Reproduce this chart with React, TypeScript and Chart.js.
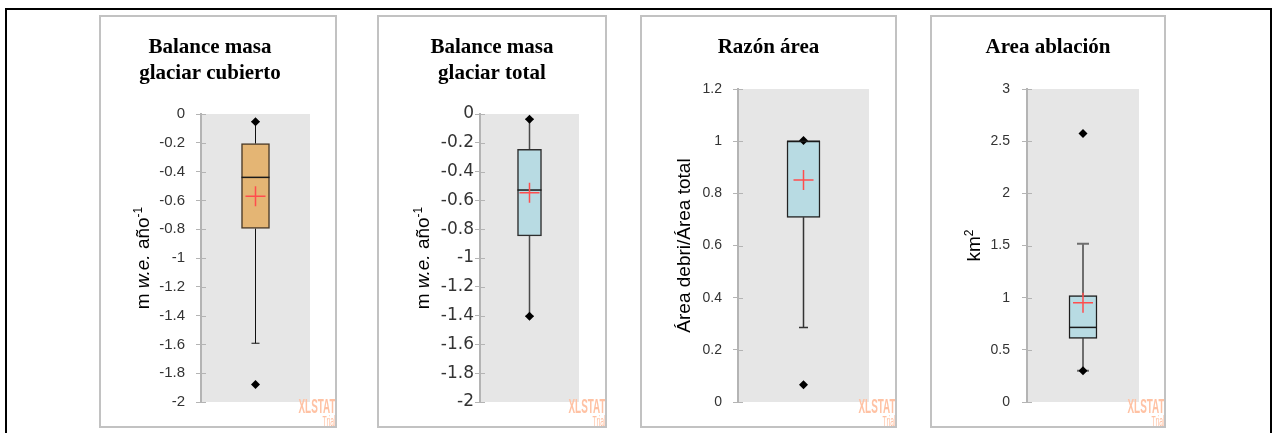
import React, { useEffect, useRef } from 'react';
import { Chart, registerables } from 'chart.js';

Chart.register(...registerables);

// Box-plot summary statistics, one entry per variable
const titles = [
  ['Balance masa', 'glaciar cubierto'],
  ['Balance masa', 'glaciar total'],
  ['Razón área'],
  ['Area ablación'],
];
const minimums = [-1.879, -1.404, 0.066, 0.3];
const lowerWhiskers = [-1.592, -1.404, 0.286, 0.3];
const firstQuartiles = [-0.795, -0.846, 0.708, 0.61];
const medians = [-0.44, -0.528, 1.0, 0.715];
const thirdQuartiles = [-0.206, -0.246, 1.0, 1.021];
const upperWhiskers = [-0.053, -0.037, 1.0, 1.516];
const maximums = [-0.053, -0.037, 1.003, 2.573];
const means = [-0.572, -0.547, 0.851, 0.951];

// Value axes
const axisMin = [-2, -2, 0, 0];
const axisMax = [0, 0, 1.2, 3];
const axisStep = [0.2, 0.2, 0.2, 0.5];
const axisLabels = [
  [{ text: 'm ' }, { text: 'w.e.', italic: true }, { text: ' año' }, { text: '-1', sup: true }],
  [{ text: 'm ' }, { text: 'w.e.', italic: true }, { text: ' año' }, { text: '-1', sup: true }],
  [{ text: 'Área debri/Área total' }],
  [{ text: 'km' }, { text: '2', sup: true }],
];

// Panel geometry and styling (page pixels)
const PANEL_TOP = 15;
const PANEL_BOTTOM = 428;
const PLOT_BOTTOM = 402;
const AXIS_W = 60;
const panels = [
  { left: 99, right: 337, plotL: 201, plotR: 310, plotT: 114, titleX: 210, tickFamily: 'Liberation Sans', tickSize: 15, tickPad: 11, labelX: 148.5, fill: '#e4b574', edge: '#4a3a28', boxW: 28, capW: 8, whisker: '#111111', whiskerW: 1 },
  { left: 377, right: 607, plotL: 480, plotR: 579, plotT: 114, titleX: 492, tickFamily: 'DejaVu Sans', tickSize: 17, tickPad: 1, labelX: 428.5, fill: '#b8dbe3', edge: '#2e2e2e', boxW: 24, capW: 8, whisker: '#4a4a4a', whiskerW: 1.5 },
  { left: 640, right: 897, plotL: 738, plotR: 869, plotT: 89, titleX: 768.5, tickFamily: 'Liberation Sans', tickSize: 14, tickPad: 11, labelX: 690, fill: '#b8dbe3', edge: '#222222', boxW: 33, capW: 9, whisker: '#333333', whiskerW: 1.5 },
  { left: 930, right: 1166, plotL: 1027, plotR: 1139, plotT: 89, titleX: 1048, tickFamily: 'Liberation Sans', tickSize: 14, tickPad: 12, labelX: 980, fill: '#b8dbe3', edge: '#1e1e1e', boxW: 28, capW: 12, whisker: '#6e6e6e', whiskerW: 2 },
];

function BoxPanel({ i }: { i: number }) {
  const ref = useRef<HTMLCanvasElement>(null);
  const p = panels[i];
  const ox = p.left + 2;
  const oy = PANEL_TOP + 2;
  const cw = p.right - p.left - 4;
  const ch = PANEL_BOTTOM - PANEL_TOP - 4;

  useEffect(() => {
    const statsPlugin = {
      id: 'boxStats',
      beforeDraw(chart: any) {
        const { ctx, chartArea: a } = chart;
        ctx.save();
        ctx.fillStyle = '#e6e6e6';
        ctx.fillRect(a.left, a.top, a.right - a.left, a.bottom - a.top);
        ctx.restore();
      },
      beforeDatasetsDraw(chart: any) {
        const { ctx } = chart;
        const xs = chart.scales.x;
        const ys = chart.scales.y;
        const cx = xs.getPixelForValue(0);
        ctx.save();
        ctx.strokeStyle = p.whisker;
        ctx.lineWidth = p.whiskerW;
        const seg = (from: number, to: number) => {
          if (from === to) return;
          const y0 = ys.getPixelForValue(from);
          const y1 = ys.getPixelForValue(to);
          ctx.beginPath();
          ctx.moveTo(cx, y0);
          ctx.lineTo(cx, y1);
          ctx.moveTo(cx - p.capW / 2, y1);
          ctx.lineTo(cx + p.capW / 2, y1);
          ctx.stroke();
        };
        seg(thirdQuartiles[i], upperWhiskers[i]);
        seg(firstQuartiles[i], lowerWhiskers[i]);
        ctx.restore();
      },
      afterDatasetsDraw(chart: any) {
        const { ctx } = chart;
        const xs = chart.scales.x;
        const ys = chart.scales.y;
        const cx = xs.getPixelForValue(0);
        ctx.save();
        // median
        const ym = ys.getPixelForValue(medians[i]);
        ctx.strokeStyle = '#1a1a1a';
        ctx.lineWidth = 1.5;
        ctx.beginPath();
        ctx.moveTo(cx - p.boxW / 2, ym);
        ctx.lineTo(cx + p.boxW / 2, ym);
        ctx.stroke();
        // mean
        const yMean = ys.getPixelForValue(means[i]);
        ctx.strokeStyle = '#ff4d4d';
        ctx.lineWidth = 1.5;
        ctx.beginPath();
        ctx.moveTo(cx - 10, yMean);
        ctx.lineTo(cx + 10, yMean);
        ctx.moveTo(cx, yMean - 10);
        ctx.lineTo(cx, yMean + 10);
        ctx.stroke();
        ctx.restore();
      },
      afterDraw(chart: any) {
        const { ctx, chartArea: a } = chart;
        const ys = chart.scales.y;
        ctx.save();
        // tick stubs inside the plot
        ctx.strokeStyle = '#b4b4b4';
        ctx.lineWidth = 1;
        ys.ticks.forEach((t: any) => {
          const y = Math.round(ys.getPixelForValue(t.value)) + 0.5;
          ctx.beginPath();
          ctx.moveTo(a.left, y);
          ctx.lineTo(a.left + 5, y);
          ctx.stroke();
        });
        // title
        ctx.fillStyle = '#000';
        ctx.font = 'bold 21px "Liberation Serif"';
        ctx.textAlign = 'center';
        ctx.textBaseline = 'alphabetic';
        titles[i].forEach((line, k) => {
          ctx.fillText(line, p.titleX - ox, 53 - oy + k * 25.5);
        });
        // rotated value-axis label
        const base = 19;
        const fontFor = (s: any) =>
          `${s.italic ? 'italic ' : ''}${s.sup ? 12 : base}px "Liberation Sans"`;
        let total = 0;
        axisLabels[i].forEach((s: any) => {
          ctx.font = fontFor(s);
          total += ctx.measureText(s.text).width;
        });
        ctx.translate(p.labelX - ox, (p.plotT + PLOT_BOTTOM) / 2 - oy);
        ctx.rotate(-Math.PI / 2);
        ctx.textAlign = 'left';
        let x = -total / 2;
        axisLabels[i].forEach((s: any) => {
          ctx.font = fontFor(s);
          ctx.fillText(s.text, x, s.sup ? -7 : 0);
          x += ctx.measureText(s.text).width;
        });
        ctx.setTransform(1, 0, 0, 1, 0, 0);
        // XLSTAT trial mark
        const stamp = (text: string, font: string, width: number, baseline: number) => {
          ctx.font = font;
          const w = ctx.measureText(text).width;
          ctx.save();
          ctx.translate(p.right - 1.5 - ox, baseline - oy);
          ctx.scale(width / w, 1);
          ctx.textAlign = 'right';
          ctx.fillStyle = '#ffc2a4';
          ctx.fillText(text, 0, 0);
          ctx.restore();
        };
        stamp('XLSTAT', 'bold 20px "Liberation Sans"', 37, 412.5);
        stamp('Trial', '14px "Liberation Sans"', 13, 425.5);
        ctx.restore();
      },
    };

    const chart = new Chart(ref.current as HTMLCanvasElement, {
      type: 'bar',
      data: {
        labels: [''],
        datasets: [
          {
            type: 'line',
            data: [minimums[i]],
            showLine: false,
            pointStyle: 'rectRot',
            pointRadius: 4.5,
            pointBackgroundColor: '#000',
            pointBorderColor: '#000',
            pointBorderWidth: 0,
            order: 0,
          } as any,
          {
            type: 'line',
            data: [maximums[i]],
            showLine: false,
            pointStyle: 'rectRot',
            pointRadius: 4.5,
            pointBackgroundColor: '#000',
            pointBorderColor: '#000',
            pointBorderWidth: 0,
            order: 0,
          } as any,
          {
            type: 'bar',
            data: [[firstQuartiles[i], thirdQuartiles[i]]],
            backgroundColor: p.fill,
            borderColor: p.edge,
            borderWidth: 1.5,
            borderSkipped: false,
            barThickness: p.boxW,
            order: 1,
          } as any,
        ],
      },
      options: {
        responsive: false,
        animation: false,
        devicePixelRatio: 1,
        events: [],
        layout: {
          padding: {
            left: p.plotL - ox - AXIS_W,
            right: ox + cw - p.plotR,
            top: p.plotT - oy,
            bottom: oy + ch - PLOT_BOTTOM,
          },
        },
        plugins: {
          legend: { display: false },
          tooltip: { enabled: false },
          title: { display: false },
        },
        scales: {
          x: { display: false, offset: true },
          y: {
            min: axisMin[i],
            max: axisMax[i],
            afterFit: (s: any) => {
              s.width = AXIS_W;
            },
            ticks: {
              stepSize: axisStep[i],
              color: '#333',
              padding: p.tickPad,
              font: { family: p.tickFamily, size: p.tickSize },
              callback: (v: any) => String(Math.round(Number(v) * 10) / 10),
            },
            grid: {
              drawOnChartArea: false,
              drawTicks: true,
              tickLength: 5,
              color: '#b4b4b4',
              lineWidth: 1,
            },
            border: { color: '#b4b4b4', width: 2 },
          },
        },
      } as any,
      plugins: [statsPlugin],
    });
    return () => chart.destroy();
  }, [i]);

  return (
    <div
      style={{
        position: 'absolute',
        left: p.left,
        top: PANEL_TOP,
        width: p.right - p.left,
        height: PANEL_BOTTOM - PANEL_TOP,
        boxSizing: 'border-box',
        border: '2px solid #c2c2c2',
        background: '#fff',
      }}
    >
      <canvas
        ref={ref}
        width={cw}
        height={ch}
        style={{ position: 'absolute', left: 0, top: 0, width: cw, height: ch, display: 'block' }}
      />
    </div>
  );
}

export default function App() {
  return (
    <div
      style={{
        position: 'fixed',
        left: 0,
        top: 0,
        width: 1274,
        height: 433,
        overflow: 'hidden',
        background: '#fff',
      }}
    >
      <div
        style={{
          position: 'absolute',
          left: 5,
          top: 8,
          width: 1267,
          height: 450,
          boxSizing: 'border-box',
          border: '2px solid #000',
        }}
      />
      {panels.map((_, i) => (
        <BoxPanel key={i} i={i} />
      ))}
    </div>
  );
}
